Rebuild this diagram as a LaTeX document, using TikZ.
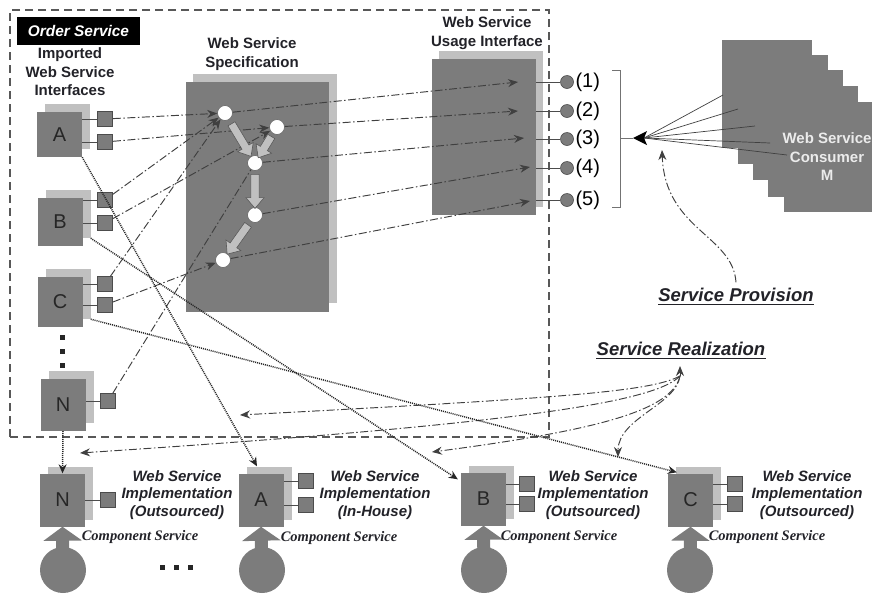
\documentclass[tikz,border=0pt]{standalone}
\usepackage{fontspec}
\setmainfont{Liberation Sans}
\newfontfamily\compserif{Liberation Serif}
\usetikzlibrary{arrows.meta,shapes.arrows,calc}

\definecolor{boxgrey}{RGB}{124,124,124}
\definecolor{backgrey}{RGB}{192,192,192}
\definecolor{linegrey}{RGB}{64,64,64}
\definecolor{framegrey}{RGB}{88,88,88}
\definecolor{textdark}{RGB}{34,34,40}

\newcommand\fTitle{\fontsize{15}{18.5}\selectfont\bfseries}
\newcommand\fImpl{\fontsize{15}{17.5}\selectfont\bfseries\itshape}
\newcommand\fLetter{\fontsize{20}{20}\selectfont}
\newcommand\fNote{\fontsize{18.5}{20}\selectfont\bfseries\itshape}
\newcommand\fComp{\compserif\fontsize{14.5}{16}\selectfont\bfseries\itshape}

\tikzset{
  frontbox/.style={fill=boxgrey, inner sep=0pt, minimum width=45, font=\fLetter, text=black!85},
  backbox/.style={fill=backgrey, inner sep=0pt, minimum width=45},
  portbox/.style={draw=black!70, fill=boxgrey, line width=0.7pt, minimum size=15, inner sep=0pt},
  link/.style={draw=black!70, line width=0.8pt},
  ddot/.style={draw=linegrey, line width=0.95pt, dash pattern=on 8pt off 2.5pt on 1.5pt off 2.5pt},
  ddarr/.style={ddot, -{Stealth[length=10pt,width=8pt]}},
  dotarr/.style={draw=black!85, line width=1.5pt, dash pattern=on 1pt off 1pt, -{Stealth[length=9pt,width=8pt]}},
  specdot/.style={circle, draw=black!60, fill=white, line width=0.6pt, minimum size=15, inner sep=0pt},
  blockarrow/.style={single arrow, draw=black!65, fill=backgrey, line width=0.6pt, inner sep=3.8pt,
    single arrow head extend=5pt, single arrow tip angle=80, sloped, allow upside down},
  outlet/.style={circle, draw=black!70, fill=boxgrey, line width=0.6pt, minimum size=13, inner sep=0pt},
  compball/.style={circle, fill=boxgrey, minimum size=46, inner sep=0pt},
  comparrow/.style={draw=boxgrey, line width=13pt, -{Triangle[length=14pt,width=38pt]}},
  fan/.style={draw=black!75, line width=0.7pt},
  bracket/.style={draw=black!55, line width=0.8pt},
  dotsq/.style={fill=black!85, minimum size=5, inner sep=0pt},
  frame/.style={draw=framegrey, line width=1.8pt, dash pattern=on 8pt off 5pt, minimum width=539, minimum height=427, inner sep=0pt}
}

\begin{document}
\begin{tikzpicture}[x=1pt,y=-1pt]
\useasboundingbox (0,0) rectangle (872,595);

% ---------- Order Service frame ----------
\node[frame] (order) at (279.5,223.5) {};
\node[fill=black, text=white, font=\fontsize{15.4}{16}\selectfont\bfseries\itshape,
      minimum width=123, minimum height=28, inner sep=0pt] (os) at (78.5,31) {Order Service};
\node[font=\fTitle, align=center, text=textdark] (imp) at (70,72) {Imported\\Web Service\\Interfaces};

% ---------- imported interfaces ----------
\node[backbox, minimum height=45] (Ab) at (67.5,126.5) {};
\node[frontbox, minimum height=45] (A) at (59.5,134.5) {A};
\node[backbox, minimum height=48] (Bb) at (68,214) {};
\node[frontbox, minimum height=48] (B) at (60,222) {B};
\node[backbox, minimum height=50] (Cb) at (68,294) {};
\node[frontbox, minimum height=50] (C) at (60,302) {C};
\node[backbox, minimum height=52] (Nb) at (71,397) {};
\node[frontbox, minimum height=52] (N) at (63,405) {N};

\node[portbox] (pA1) at (105,119) {};
\node[portbox] (pA2) at (105,142) {};
\node[portbox] (pB1) at (105,200) {};
\node[portbox] (pB2) at (105,223) {};
\node[portbox] (pC1) at (105,284) {};
\node[portbox] (pC2) at (105,305) {};
\node[portbox] (pN)  at (108,401) {};
\foreach \p/\b in {pA1/A,pA2/A,pB1/B,pB2/B,pC1/C,pC2/C,pN/N}
  \draw[link] (\p.west) -- (\p.west -| \b.east);

\node[dotsq] (v1) at (62,337) {};
\node[dotsq] (v2) at (62,351) {};
\node[dotsq] (v3) at (62,365) {};

% ---------- specification ----------
\node[font=\fTitle, align=center, text=textdark] (spect) at (252,54) {Web Service\\Specification};
\node[fill=backgrey, minimum width=144, minimum height=229, inner sep=0pt] (specb) at (265,188.5) {};
\node[fill=boxgrey, minimum width=143, minimum height=230, inner sep=0pt] (spec) at (257.5,197) {};

% ---------- usage interface ----------
\node[font=\fTitle, align=center, text=textdark] (uset) at (487,33) {Web Service\\Usage Interface};
\node[fill=backgrey, minimum width=104, minimum height=156, inner sep=0pt] (useb) at (491,129) {};
\node[fill=boxgrey, minimum width=104, minimum height=156, inner sep=0pt] (usef) at (484,137) {};

\node[specdot] (n1) at (225,113) {};
\node[specdot] (n2) at (277,127) {};
\node[specdot] (n3) at (255,163) {};
\node[specdot] (n4) at (255,215) {};
\node[specdot] (n5) at (223,260) {};

% ---------- bottom implementations ----------
\node[backbox, minimum height=53] (bNb) at (70.5,493) {};
\node[frontbox, minimum height=53] (bN) at (62.5,500) {N};
\node[backbox, minimum height=53] (bAb) at (269,493) {};
\node[frontbox, minimum height=53] (bA) at (261,500) {A};
\node[backbox, minimum height=53] (bBb) at (491.5,492) {};
\node[frontbox, minimum height=53] (bB) at (483.5,499) {B};
\node[backbox, minimum height=53] (bCb) at (698.5,493) {};
\node[frontbox, minimum height=53] (bC) at (690.5,500) {C};

\node[portbox] (qN)  at (108,500) {};
\node[portbox] (qA1) at (306,481) {};
\node[portbox] (qA2) at (306,505) {};
\node[portbox] (qB1) at (527,484) {};
\node[portbox] (qB2) at (527,504) {};
\node[portbox] (qC1) at (735,484) {};
\node[portbox] (qC2) at (735,504) {};
\foreach \p/\b in {qN/bN,qA1/bA,qA2/bA,qB1/bB,qB2/bB,qC1/bC,qC2/bC}
  \draw[link] (\p.west) -- (\p.west -| \b.east);

\node[font=\fImpl, align=center, text=textdark] (tN) at (177,495) {Web Service\\Implementation\\(Outsourced)};
\node[font=\fImpl, align=center, text=textdark] (tA) at (375,495) {Web Service\\Implementation\\(In-House)};
\node[font=\fImpl, align=center, text=textdark] (tB) at (593,495) {Web Service\\Implementation\\(Outsourced)};
\node[font=\fImpl, align=center, text=textdark] (tC) at (807,495) {Web Service\\Implementation\\(Outsourced)};

\node[font=\fComp, text=textdark] (cN) at (140,537) {Component Service};
\node[font=\fComp, text=textdark] (cA) at (339,538) {Component Service};
\node[font=\fComp, text=textdark] (cB) at (559,537) {Component Service};
\node[font=\fComp, text=textdark] (cC) at (767,537) {Component Service};

\node[compball] (sN) at (63,570) {};
\node[compball] (sA) at (262,570) {};
\node[compball] (sB) at (484,570) {};
\node[compball] (sC) at (690,570) {};
\draw[comparrow] (sN.center) -- (bN.south);
\draw[comparrow] (sA.center) -- (bA.south);
\draw[comparrow] (sB.center) -- (bB.south);
\draw[comparrow] (sC.center) -- (bC.south);

\node[dotsq] (h1) at (162,567) {};
\node[dotsq] (h2) at (176,567) {};
\node[dotsq] (h3) at (190,567) {};

% ---------- interface ports wired into the specification ----------
\draw[ddarr] (pA1) -- (n1);
\draw[ddarr] (pB1) -- (n1);
\draw[ddarr] (pC1) -- (n1);
\draw[ddarr] (pA2) -- (n2);
\draw[ddarr] (pB2) -- (n2);
\draw[ddarr] (pC2) -- (n5);
\draw[ddot]  (pN)  -- (n3);

% ---------- process flow inside the specification ----------
\path (n1) -- node[blockarrow, minimum height=38] {} (n3);
\path (n2) -- node[blockarrow, minimum height=25] {} (n3);
\path (n3) -- node[blockarrow, minimum height=34] {} (n4);
\path (n4) -- node[blockarrow, minimum height=36] {} (n5);

% ---------- specification exposed through the usage interface ----------
\coordinate (u1) at (518,82);
\coordinate (u2) at (518,111);
\coordinate (u3) at (524,138);
\coordinate (u4) at (530,167);
\coordinate (u5) at (530,201);
\draw[ddarr] (n1) -- (u1);
\draw[ddarr] (n2) -- (u2);
\draw[ddarr] (n3) -- (u3);
\draw[ddarr] (n4) -- (u4);
\draw[ddarr] (n5) -- (u5);

\foreach \i/\y in {1/82,2/111,3/139,4/168,5/200}{
  \node[outlet] (k\i) at (567,\y) {};
  \draw[link] (k\i.west) -- (k\i.west -| usef.east);
  \node[anchor=west, font=\fLetter, inner sep=1.5pt] (l\i) at (k\i.east) {(\i)};
}

% ---------- bracket and consumers ----------
\coordinate (bt) at (620,70);
\coordinate (bb) at (620,207);
\coordinate (bm) at (620,138);
\coordinate (tip) at (633,138);
\coordinate (hubc) at (644,138);
\draw[bracket] ($(bt)+(-8,0)$) -- (bt) -- (bb) -- ($(bb)+(-8,0)$);
\draw[bracket] (bm) -- (tip);

\fill[boxgrey] (722,40) rectangle (812,148);
\fill[boxgrey] (738,55) rectangle (828,164);
\fill[boxgrey] (753,70) rectangle (843,180);
\fill[boxgrey] (768,86) rectangle (858,197);
\fill[boxgrey] (784,102) rectangle (874,212);
\node[font=\fTitle, align=center, text=white!92!black] (cons) at (827,157) {Web Service\\Consumer\\M};

\coordinate (f1) at (723,95);
\coordinate (f2) at (738,109);
\coordinate (f3) at (755,126);
\coordinate (f4) at (770,143);
\coordinate (f5) at (787,155);
\foreach \f in {f1,f2,f3,f4,f5}
  \draw[fan] (hubc) -- (\f);
\fill[black] (tip) -- (647,131) -- (644,138) -- (647,145) -- cycle;

% ---------- annotations ----------
\node[font=\fNote, text=textdark, inner sep=0pt, anchor=base] (sp) at (736,301) {Service Provision};
\draw[textdark, line width=1.3pt] ($(sp.base west)+(0,3.5)$) -- ($(sp.base east)+(0,3.5)$);
\draw[ddarr] ($(sp.north)+(0,-5)$) .. controls (733,235) and (665,230) .. (662,150);

\node[font=\fNote, text=textdark, inner sep=0pt, anchor=base] (sr) at (681,355) {Service Realization};
\draw[textdark, line width=1.3pt] ($(sr.base west)+(0,3.5)$) -- ($(sr.base east)+(0,3.5)$);
\coordinate (hub) at (680,376);
\coordinate (r1) at (240,415);
\coordinate (r2) at (80,453);
\coordinate (r3) at (432,452);
\coordinate (r4) at (618,457);
\draw[ddarr] (hub) -- (680,366);
\draw[ddarr] (hub) .. controls (650,392) and (560,398) .. (r1);
\draw[ddarr] (hub) .. controls (655,402) and (520,424) .. (r2);
\draw[ddarr] (hub) .. controls (672,410) and (600,430) .. (r3);
\draw[ddarr] (hub) .. controls (676,405) and (618,418) .. (r4);

% ---------- realization links ----------
\draw[dotarr] (A.south east) -- ($(bA.north)+(-4,-7)$);
\draw[dotarr] (Bb.south east) -- ($(bB.north west)+(-3,7)$);
\draw[dotarr] (Cb.south east) -- ($(bC.north west)+(9,-1)$);
\draw[dotarr] (N.south) -- (bN.north);
\end{tikzpicture}
\end{document}
